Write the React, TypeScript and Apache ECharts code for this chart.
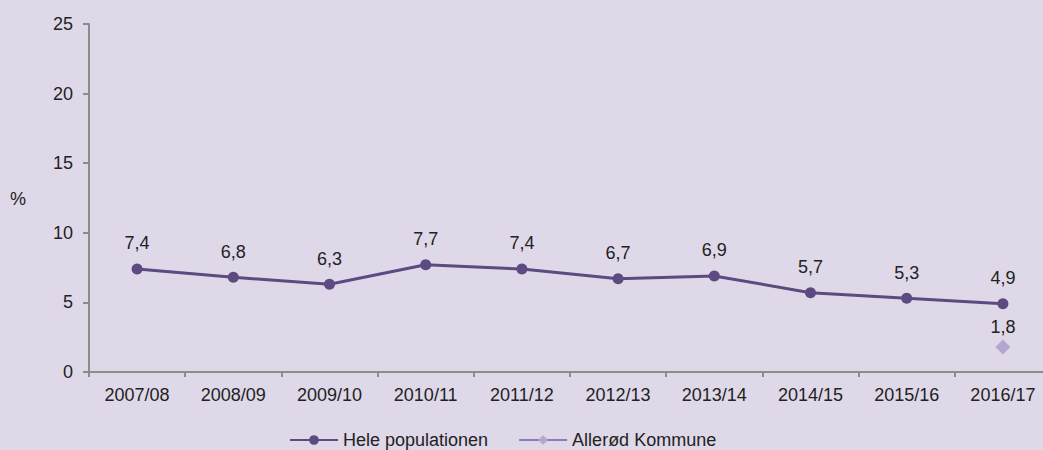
import React, { useEffect, useRef } from "react";
import * as echarts from "echarts";

const categories = ["2007/08", "2008/09", "2009/10", "2010/11", "2011/12", "2012/13", "2013/14", "2014/15", "2015/16", "2016/17"];
const helePopulationen = [7.4, 6.8, 6.3, 7.7, 7.4, 6.7, 6.9, 5.7, 5.3, 4.9];
const allerod = [null, null, null, null, null, null, null, null, null, 1.8];
const yTicks = [0, 5, 10, 15, 20, 25];

const fmt = (v: number) => v.toFixed(1).replace(".", ",");

export default function App() {
  const ref = useRef<HTMLDivElement>(null);
  useEffect(() => {
    const chart = echarts.init(ref.current!, null, { renderer: "svg" });
    const font = "Liberation Sans, Arial, sans-serif";
    chart.setOption({
      animation: false,
      backgroundColor: "#DFD8E9",
      textStyle: { fontFamily: font },
      grid: { left: 89, right: 9, top: 24, bottom: 78, containLabel: false },
      xAxis: {
        type: "category",
        data: categories,
        boundaryGap: true,
        axisLine: { lineStyle: { color: "#8C8C8C", width: 2 } },
        axisTick: { show: true, length: 5, lineStyle: { color: "#8C8C8C", width: 2 } },
        axisLabel: { color: "#222", fontSize: 18, margin: 14, fontFamily: font },
      },
      yAxis: {
        type: "value",
        min: yTicks[0],
        max: yTicks[yTicks.length - 1],
        interval: 5,
        splitLine: { show: false },
        axisLine: { show: true, lineStyle: { color: "#8C8C8C", width: 2 } },
        axisTick: { show: true, length: 6, lineStyle: { color: "#8C8C8C", width: 2 } },
        axisLabel: { color: "#222", fontSize: 18, margin: 16, fontFamily: font },
      },
      legend: {
        top: 426,
        left: 284,
        itemWidth: 48,
        itemHeight: 12,
        itemGap: 30,
        textStyle: { color: "#222", fontSize: 18, fontFamily: font },
        data: ["Hele populationen", "Allerød Kommune"],
      },
      graphic: [
        { type: "text", left: 10, top: 190, style: { text: "%", fill: "#222", font: `18px ${font}` } },
      ],
      series: [
        {
          name: "Hele populationen",
          type: "line",
          data: helePopulationen,
          symbol: "circle",
          symbolSize: 11,
          lineStyle: { color: "#5C4A80", width: 3 },
          itemStyle: { color: "#5C4A80" },
          label: {
            show: true,
            position: "top",
            distance: 11,
            color: "#222",
            fontSize: 18,
            fontFamily: font,
            formatter: (p: any) => fmt(p.value),
          },
        },
        {
          name: "Allerød Kommune",
          type: "line",
          data: allerod,
          symbol: "diamond",
          symbolSize: 15,
          lineStyle: { color: "#8A7DB8", width: 3 },
          itemStyle: { color: "#B5A5CF" },
          label: {
            show: true,
            position: "top",
            distance: 3,
            color: "#222",
            fontSize: 18,
            fontFamily: font,
            formatter: (p: any) => (p.value == null ? "" : fmt(p.value)),
          },
        },
      ],
    });
    return () => chart.dispose();
  }, []);
  return (
    <div style={{ position: "fixed", left: 0, top: 0, width: 1043, height: 450, overflow: "hidden", background: "#DFD8E9" }}>
      <div ref={ref} style={{ width: 1060, height: 450 }} />
    </div>
  );
}
